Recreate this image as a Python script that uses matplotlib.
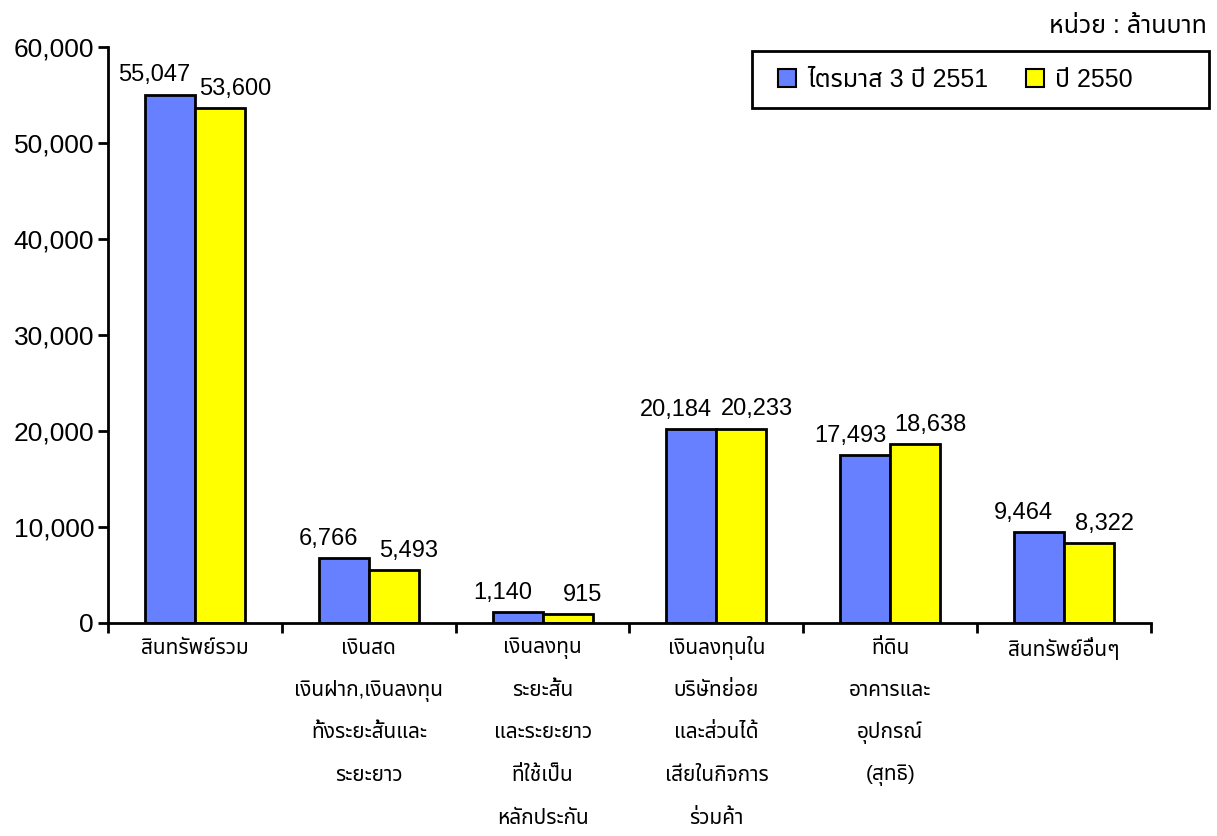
import matplotlib
matplotlib.use('Agg')
import matplotlib.pyplot as plt
import numpy as np
from matplotlib import font_manager as fm
from matplotlib.ft2font import FT2Font
from matplotlib.patches import Patch, Rectangle
from matplotlib.ticker import FuncFormatter, FixedLocator

categories = [
    "สินทรัพย์รวม",
    "เงินสด\nเงินฝาก,เงินลงทุน\nทั้งระยะสั้นและ\nระยะยาว",
    "เงินลงทุน\nระยะสั้น\nและระยะยาว\nที่ใช้เป็น\nหลักประกัน",
    "เงินลงทุนใน\nบริษัทย่อย\nและส่วนได้\nเสียในกิจการ\nร่วมค้า",
    "ที่ดิน\nอาคารและ\nอุปกรณ์\n(สุทธิ)",
    "สินทรัพย์อื่นๆ",
]
q3_2551 = [55047, 6766, 1140, 20184, 17493, 9464]
y2550 = [53600, 5493, 915, 20233, 18638, 8322]
series_names = ["ไตรมาส 3 ปี 2551", "ปี 2550"]
yticks = [0, 10000, 20000, 30000, 40000, 50000, 60000]
unit_text = "หน่วย : ล้านบาท"


def find_thai_font():
    found = []
    seen = set()
    for f in fm.fontManager.ttflist:
        if f.fname in seen:
            continue
        seen.add(f.fname)
        try:
            cm = FT2Font(f.fname).get_charmap()
        except Exception:
            continue
        if 0x0E01 in cm and 0x0E34 in cm and 0x0E49 in cm:
            found.append(f.name)
    pref = ['Noto Sans Thai', 'Noto Sans Thai UI', 'Loma', 'Garuda', 'Tlwg Typo',
            'Sarabun', 'Kinnari', 'Norasi']
    for p in pref:
        if p in found:
            return p
    return found[0] if found else None


thai = find_thai_font()
fams = ['Liberation Sans']
if thai:
    fams.append(thai)
fams.append('DejaVu Sans')
plt.rcParams['font.family'] = fams

W, H = 1217, 836
fig = plt.figure(figsize=(W / 100, H / 100), dpi=100)
ax = fig.add_axes([108 / W, 1 - 623 / H, (1151 - 108) / W, (623 - 47) / H])

x = np.arange(len(categories))
w = 0.288
blue = '#6680ff'
yellow = '#ffff00'
b1 = ax.bar(x - w / 2, q3_2551, w, color=blue, edgecolor='black', linewidth=2.0, zorder=3)
b2 = ax.bar(x + w / 2, y2550, w, color=yellow, edgecolor='black', linewidth=2.0, zorder=3)

ax.set_xlim(-0.5, len(categories) - 0.5)
ax.set_ylim(0, 60000)
ax.yaxis.set_major_locator(FixedLocator(yticks))
ax.yaxis.set_major_formatter(FuncFormatter(lambda v, p: f"{int(v):,}"))
ax.tick_params(axis='y', direction='out', length=7, width=2.0, labelsize=19, pad=3)

ax.xaxis.set_major_locator(FixedLocator(np.arange(-0.5, len(categories), 1.0)))
ax.xaxis.set_major_formatter(FuncFormatter(lambda v, p: ""))
ax.tick_params(axis='x', direction='out', length=7, width=2.0)

for s in ['top', 'right']:
    ax.spines[s].set_visible(False)
for s in ['left', 'bottom']:
    ax.spines[s].set_linewidth(2.0)
    ax.spines[s].set_zorder(4)

# value labels
for rect, v in zip(b1, q3_2551):
    ax.annotate(f"{v:,}", (rect.get_x() + rect.get_width() / 2, v),
                xytext=(-11, 6), textcoords='offset points', ha='center', va='bottom',
                fontsize=17)
for rect, v in zip(b2, y2550):
    ax.annotate(f"{v:,}", (rect.get_x() + rect.get_width() / 2, v),
                xytext=(11, 6), textcoords='offset points', ha='center', va='bottom',
                fontsize=17)

# category labels, line by line
for i, lab in enumerate(categories):
    for j, line in enumerate(lab.split("\n")):
        ax.annotate(line, (i, 0), xycoords=('data', 'data'),
                    xytext=(0, -18 - j * 30.6), textcoords='offset points',
                    ha='center', va='center', fontsize=15, annotation_clip=False)

# legend
fig.patches.append(Rectangle((752 / W, 1 - 108 / H), (1209 - 752) / W, (108 - 51) / H,
                             transform=fig.transFigure, facecolor='white',
                             edgecolor='black', linewidth=2.0, zorder=5))
leg = fig.legend([Patch(facecolor=blue, edgecolor='black', linewidth=1.5),
                  Patch(facecolor=yellow, edgecolor='black', linewidth=1.5)],
                 series_names, loc='center left', bbox_to_anchor=(778 / W, 1 - 80 / H),
                 bbox_transform=fig.transFigure, ncol=2, fontsize=18, frameon=False,
                 handlelength=0.72, handleheight=0.72, handletextpad=0.45,
                 columnspacing=1.5, borderpad=0, borderaxespad=0)
leg.set_zorder(6)

fig.text(1207 / W, 1 - 26 / H, unit_text, ha='right', va='center', fontsize=18)

fig.savefig('out.png', dpi=100)
